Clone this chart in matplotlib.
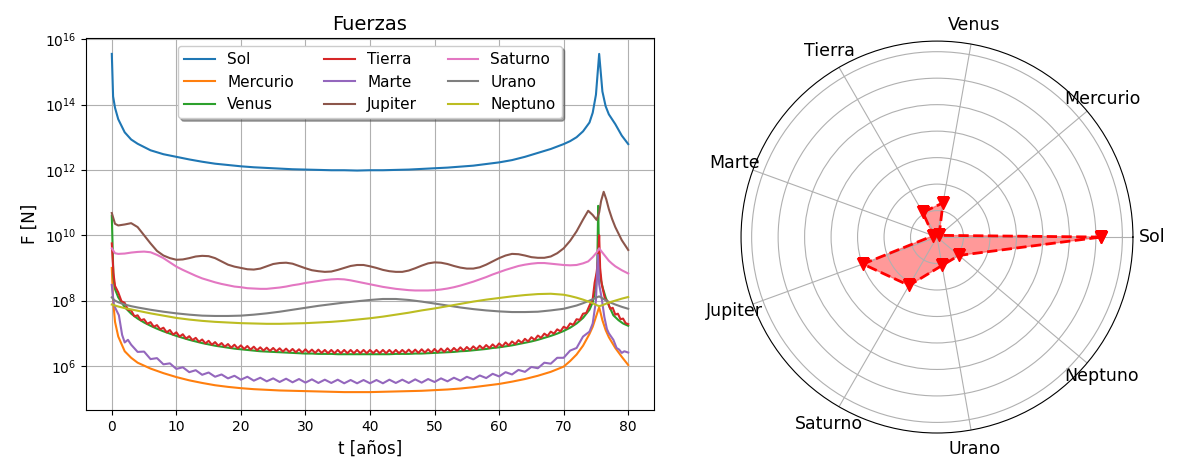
import numpy as np
import matplotlib
matplotlib.use('Agg')
import matplotlib.pyplot as plt
from matplotlib.ticker import NullLocator

# ---- datos (log10 de la fuerza en N) ----
cuerpos = ['Sol', 'Mercurio', 'Venus', 'Tierra', 'Marte', 'Jupiter', 'Saturno', 'Urano', 'Neptuno']

# tiempos (años) para las curvas suaves
t_suave = [0, 0.2, 0.5, 1, 2, 3, 4] + list(range(6, 71, 2)) + \
          [71, 72, 73, 74, 74.5, 75, 75.5, 76, 76.5, 77, 78, 79, 80]

log_sol = [15.55, 14.25, 13.9, 13.55, 13.15, 12.93, 12.8,
           12.6, 12.48, 12.4, 12.32, 12.25, 12.19, 12.15, 12.11, 12.08, 12.06,
           12.04, 12.02, 12.01, 12.0, 11.99, 11.99, 11.98, 11.99, 11.99, 12.0,
           12.01, 12.03, 12.05, 12.07, 12.1, 12.13, 12.18, 12.23, 12.3, 12.4,
           12.52, 12.64, 12.79,
           12.88, 13.0, 13.18, 13.45, 13.75, 14.3, 15.55, 14.4, 13.95, 13.7, 13.4, 13.05, 12.79]

log_mercurio = [9.0, 8.0, 7.35, 6.9, 6.45, 6.25, 6.1,
                5.92, 5.78, 5.66, 5.56, 5.48, 5.41, 5.36, 5.32, 5.29, 5.27,
                5.25, 5.24, 5.23, 5.22, 5.21, 5.2, 5.2, 5.2, 5.21, 5.22,
                5.23, 5.24, 5.26, 5.28, 5.31, 5.35, 5.4, 5.45, 5.52, 5.6,
                5.7, 5.82, 5.98,
                6.15, 6.35, 6.62, 6.98, 7.2, 7.5, 7.8, 7.4, 7.1, 6.88, 6.55, 6.28, 6.03]

log_urano = [8.1, 8.05, 8.0, 7.95, 7.88, 7.83, 7.79,
             7.72, 7.66, 7.61, 7.57, 7.54, 7.53, 7.53, 7.54, 7.57, 7.61,
             7.66, 7.72, 7.78, 7.84, 7.89, 7.94, 7.98, 8.02, 8.05, 8.05,
             8.02, 7.97, 7.91, 7.85, 7.79, 7.74, 7.7, 7.67, 7.65, 7.65,
             7.66, 7.7, 7.75,
             7.8, 7.85, 7.92, 8.0, 8.04, 8.09, 8.13, 8.07, 8.01, 7.96, 7.88, 7.81, 7.75]

log_neptuno = [7.88, 7.87, 7.85, 7.82, 7.77, 7.73, 7.69,
               7.61, 7.54, 7.47, 7.42, 7.38, 7.35, 7.33, 7.31, 7.3, 7.29,
               7.29, 7.3, 7.31, 7.33, 7.35, 7.38, 7.42, 7.46, 7.51, 7.57,
               7.63, 7.7, 7.76, 7.83, 7.9, 7.97, 8.03, 8.08, 8.13, 8.17,
               8.2, 8.21, 8.18,
               8.14, 8.09, 8.03, 7.96, 7.92, 7.87, 7.83, 7.86, 7.9, 7.94, 8.0, 8.06, 8.11]

# tiempos (años) con paso de un año para Jupiter y Saturno
t_fino = [0, 0.5] + list(range(1, 74)) + \
         [73.8, 74.5, 75.1, 75.5, 75.8, 76.2, 76.6, 77, 77.5, 78, 79, 80]

log_jupiter = [10.68, 10.35,
               10.3, 10.33, 10.37, 10.25, 10.0, 9.75, 9.52, 9.38, 9.3, 9.25,
               9.26, 9.3, 9.35, 9.37, 9.36, 9.3, 9.2, 9.1, 9.04, 9.0,
               8.96, 8.95, 8.98, 9.05, 9.12, 9.15, 9.16, 9.13, 9.06, 8.99,
               8.93, 8.9, 8.88, 8.89, 8.94, 9.0, 9.06, 9.09, 9.09, 9.05,
               9.0, 8.94, 8.9, 8.88, 8.88, 8.92, 8.99, 9.07, 9.14, 9.17,
               9.16, 9.12, 9.06, 9.01, 8.98, 8.98, 9.02, 9.1, 9.2, 9.3,
               9.38, 9.43, 9.42, 9.38, 9.33, 9.31, 9.31, 9.35, 9.45, 9.6,
               9.83, 10.12, 10.48,
               10.75, 10.62, 10.47, 10.7, 11.05, 11.33, 11.1, 10.8, 10.5, 10.25, 9.85, 9.55]

log_saturno = [9.6, 9.45,
               9.43, 9.44, 9.47, 9.49, 9.5, 9.48, 9.4, 9.3, 9.17, 9.04,
               8.94, 8.85, 8.76, 8.68, 8.62, 8.56, 8.51, 8.47, 8.43, 8.41,
               8.38, 8.37, 8.36, 8.36, 8.38, 8.4, 8.43, 8.47, 8.5, 8.54,
               8.57, 8.6, 8.63, 8.65, 8.66, 8.65, 8.62, 8.58, 8.54, 8.5,
               8.46, 8.42, 8.39, 8.36, 8.34, 8.32, 8.31, 8.31, 8.31, 8.32,
               8.34, 8.37, 8.41, 8.46, 8.52, 8.58, 8.65, 8.72, 8.8, 8.87,
               8.94, 9.0, 9.06, 9.1, 9.13, 9.15, 9.15, 9.13, 9.11, 9.09,
               9.08, 9.09, 9.14,
               9.2, 9.33, 9.47, 9.6, 9.52, 9.42, 9.32, 9.22, 9.13, 9.05, 8.93, 8.83]

# Tierra: medio año de paso (oscilacion anual)
t_tierra = [0, 0.25] + list(np.arange(0.5, 75.0, 0.5)) + \
           [74.8, 75.1, 75.35, 75.5, 75.65, 75.9, 76.4, 76.8, 77.2, 77.6, 78.0, 78.4, 78.8, 79.2, 79.6, 80.0]
log_tierra = [9.75, 8.85,
              8.45, 8.25, 7.98, 7.93, 7.72, 7.70, 7.52, 7.55, 7.40, 7.43,
              7.29, 7.34, 7.20, 7.25, 7.12, 7.17, 7.03, 7.10, 6.96, 7.03,
              6.90, 6.97, 6.84, 6.91, 6.79, 6.86, 6.74, 6.81, 6.69, 6.77,
              6.65, 6.73, 6.62, 6.70, 6.59, 6.67, 6.56, 6.65, 6.54, 6.63,
              6.52, 6.61, 6.50, 6.59, 6.48, 6.57, 6.47, 6.56, 6.46, 6.55,
              6.45, 6.54, 6.44, 6.53, 6.43, 6.52, 6.42, 6.51, 6.41, 6.51,
              6.41, 6.50, 6.40, 6.50, 6.40, 6.49, 6.39, 6.49, 6.39, 6.49,
              6.39, 6.49, 6.39, 6.49, 6.39, 6.49, 6.39, 6.49, 6.39, 6.49,
              6.39, 6.49, 6.39, 6.49, 6.39, 6.49, 6.39, 6.49, 6.39, 6.49,
              6.40, 6.50, 6.40, 6.50, 6.40, 6.51, 6.41, 6.51, 6.41, 6.52,
              6.42, 6.53, 6.43, 6.54, 6.44, 6.55, 6.46, 6.57, 6.47, 6.58,
              6.49, 6.60, 6.51, 6.62, 6.53, 6.64, 6.55, 6.66, 6.57, 6.69,
              6.60, 6.72, 6.63, 6.75, 6.67, 6.79, 6.71, 6.83, 6.75, 6.88,
              6.80, 6.93, 6.86, 6.99, 6.92, 7.05, 6.99, 7.12, 7.06, 7.20,
              7.15, 7.30, 7.26, 7.43, 7.41, 7.60, 7.62, 7.85, 8.05,
              8.55, 8.85, 9.3, 10.0, 9.0, 8.5, 8.05, 7.98, 7.75, 7.78, 7.57, 7.6, 7.43, 7.45, 7.31, 7.28]

t_venus = [0, 0.25, 0.5] + list(range(1, 75)) + \
          [74.5, 75.0, 75.2, 75.35, 75.5, 75.8, 76.1, 76.5, 77.0, 77.7, 78.5, 79.2, 80.0]
log_venus = [10.6, 8.7, 8.35,
             8.1, 7.8, 7.6, 7.45, 7.33, 7.23, 7.14, 7.06, 6.99, 6.92,
             6.86, 6.8, 6.75, 6.7, 6.66, 6.62, 6.59, 6.56, 6.53, 6.51,
             6.49, 6.47, 6.45, 6.44, 6.43, 6.42, 6.41, 6.40, 6.39, 6.38,
             6.38, 6.37, 6.37, 6.37, 6.36, 6.36, 6.36, 6.36, 6.36, 6.36,
             6.36, 6.36, 6.36, 6.37, 6.37, 6.37, 6.38, 6.38, 6.39, 6.40,
             6.41, 6.42, 6.43, 6.45, 6.46, 6.48, 6.50, 6.52, 6.55, 6.57,
             6.60, 6.63, 6.67, 6.71, 6.75, 6.80, 6.86, 6.92, 6.99, 7.07,
             7.17, 7.30, 7.47, 7.72,
             7.95, 8.4, 9.0, 10.9, 9.0, 8.6, 8.36, 8.1, 7.85, 7.55, 7.4, 7.3, 7.23]

t_marte = [0, 0.3, 0.6, 1.1, 1.6, 2.0, 2.5] + list(range(3, 75)) + \
          [74.5, 75.0, 75.3, 75.5, 75.9, 76.3, 76.7, 77.0, 77.7, 78.2, 78.6, 79.0, 79.4, 80.0]
log_marte = [8.48, 7.9, 7.75, 7.55, 6.95, 6.72, 6.8,
             6.65, 6.43, 6.44, 6.21, 6.24, 6.05, 6.08, 5.91, 5.96, 5.81,
             5.87, 5.73, 5.80, 5.67, 5.74, 5.62, 5.70, 5.58, 5.67, 5.55,
             5.64, 5.53, 5.62, 5.51, 5.61, 5.50, 5.60, 5.49, 5.59, 5.48,
             5.58, 5.48, 5.58, 5.47, 5.57, 5.47, 5.57, 5.47, 5.57, 5.47,
             5.58, 5.48, 5.58, 5.48, 5.59, 5.49, 5.60, 5.51, 5.62, 5.53,
             5.64, 5.55, 5.67, 5.59, 5.71, 5.63, 5.76, 5.68, 5.81, 5.74,
             5.88, 5.82, 5.97, 5.93, 6.10, 6.07, 6.25, 6.25, 6.47, 6.55,
             6.90, 7.05,
             7.3, 8.0, 9.4, 8.5, 8.06, 7.5, 7.13, 7.0, 6.8, 6.55, 6.5, 6.4, 6.45, 6.41]

# radar: valores radiales por cuerpo
r_radar = [6.2, 0.1, 1.31, 1.08, 0.15, 2.98, 2.11, 1.09, 1.08]

# ---- figura ----
fig = plt.figure(figsize=(11.81, 4.66), dpi=100)
ax1 = fig.add_axes([0.0728, 0.120, 0.481, 0.798])
ax2 = fig.add_axes([0.6274, 0.0708, 0.332, 0.841], projection='polar')

series = [(t_suave, log_sol), (t_suave, log_mercurio), (t_venus, log_venus),
          (t_tierra, log_tierra), (t_marte, log_marte), (t_fino, log_jupiter),
          (t_fino, log_saturno), (t_suave, log_urano), (t_suave, log_neptuno)]
for nombre, (t, lf) in zip(cuerpos, series):
    ax1.plot(t, 10 ** np.array(lf), label=nombre)

ax1.set_yscale('log')
ax1.set_ylim(10 ** 4.65, 10 ** 16.03)
ax1.set_yticks([10.0 ** k for k in range(6, 17, 2)])
ax1.yaxis.set_minor_locator(NullLocator())
ax1.set_xlim(-4, 84)
ax1.grid(True)
ax1.set_title('Fuerzas', fontsize=14)
ax1.set_xlabel('t [años]', fontsize=12)
ax1.set_ylabel('F [N]', fontsize=12)
ax1.legend(ncol=3, loc='upper center', shadow=True, fontsize=11)

# radar
ang = np.linspace(0, 2 * np.pi, len(cuerpos), endpoint=False)
ang_c = np.append(ang, ang[0])
r_c = np.append(r_radar, r_radar[0])
ax2.plot(ang_c, r_c, 'r--v', linewidth=2, markersize=9)
ax2.fill(ang_c, r_c, color='red', alpha=0.4)
ax2.set_thetagrids(np.degrees(ang), cuerpos, fontsize=12.5)
ax2.set_rlim(0, 7.4)
ax2.set_rticks([1, 2, 3, 4, 5, 6, 7])
ax2.set_yticklabels([])

fig.savefig('out.png', dpi=100)
